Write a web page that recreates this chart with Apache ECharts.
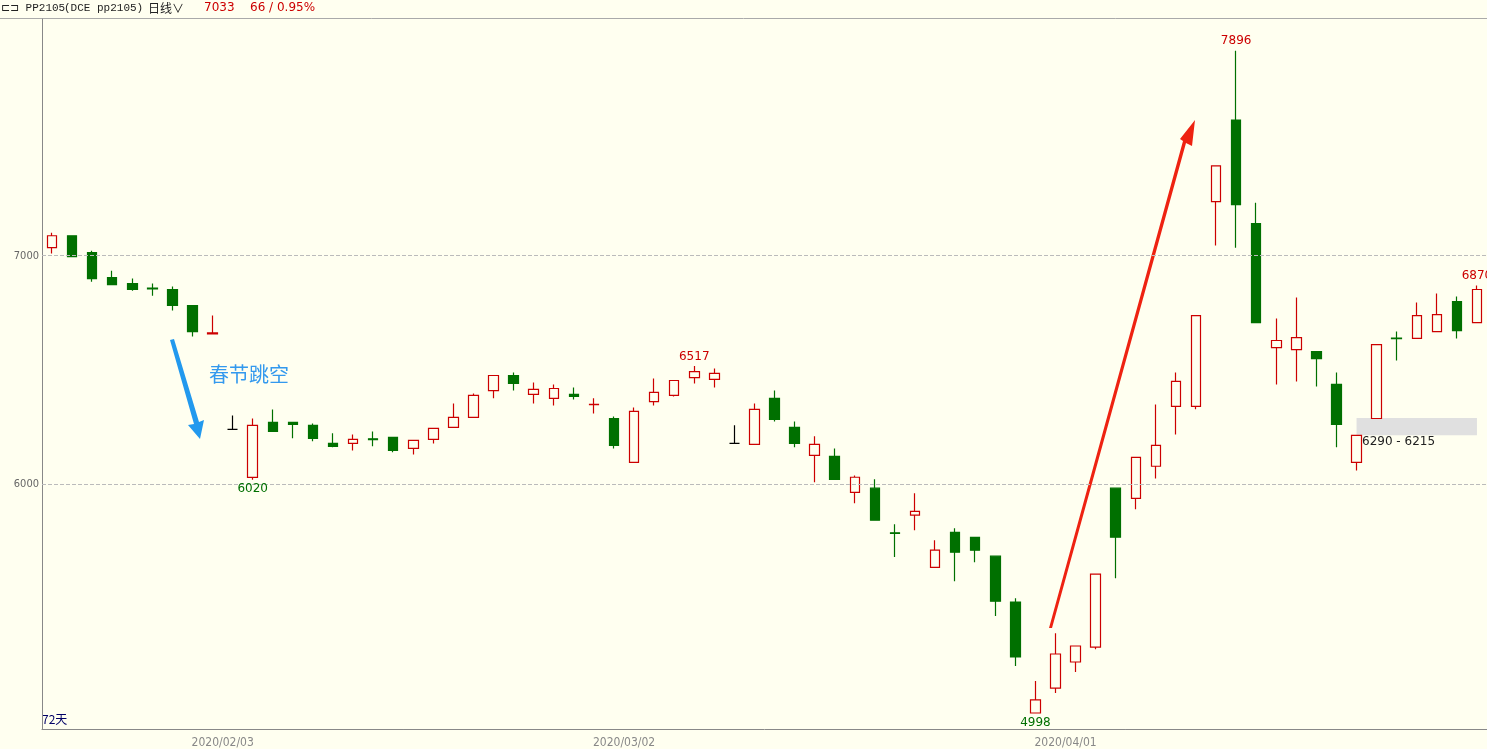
<!doctype html>
<html lang="zh">
<head>
<meta charset="utf-8">
<title>PP2105</title>
<script src="https://cdn.jsdelivr.net/npm/echarts@6/dist/echarts.min.js"></script>
<style>
  html, body { margin: 0; padding: 0; background: #fffff0; }
  #chart { width: 1487px; height: 749px; }
</style>
</head>
<body>
<div id="chart"></div>
<script>
// [open, close, low, high] per trading day
const ohlc = [
  [7035,7087,7009,7100],[7087,6996,6996,7087],[7013,6900,6886,7022],[6904,6873,6873,6934],
  [6878,6852,6847,6900],[6858,6855,6825,6878],[6852,6782,6760,6865],[6782,6668,6646,6782],
  [6658,6662,6658,6738],[6240,6240,6240,6301],[6030,6258,6020,6288],[6271,6231,6231,6327],
  [6271,6262,6201,6271],[6258,6201,6188,6266],[6179,6166,6162,6223],[6179,6197,6148,6218],
  [6199,6195,6166,6231],[6205,6148,6140,6205],[6157,6192,6131,6192],[6197,6245,6179,6245],
  [6249,6293,6249,6354],[6293,6389,6293,6397],[6410,6476,6376,6476],[6476,6441,6410,6489],
  [6393,6415,6354,6445],[6376,6419,6345,6437],[6393,6384,6371,6424],[6348,6350,6310,6376],
  [6288,6170,6157,6297],[6096,6319,6096,6336],[6362,6402,6345,6463],[6389,6454,6384,6454],
  [6467,6493,6441,6517],[6459,6485,6424,6507],[6179,6179,6179,6258],[6175,6328,6175,6354],
  [6376,6284,6275,6410],[6249,6179,6162,6275],[6127,6175,6009,6210],[6122,6022,6022,6157],
  [5965,6031,5917,6039],[5983,5843,5843,6022],[5788,5785,5682,5825],[5865,5882,5799,5961],
  [5637,5712,5637,5755],[5790,5703,5576,5808],[5768,5712,5659,5768],[5686,5489,5424,5686],
  [5485,5245,5205,5502],[5000,5057,4998,5140],[5109,5258,5087,5349],[5223,5293,5179,5293],
  [5288,5607,5279,5607],[5983,5769,5589,5983],[5939,6118,5891,6118],[6079,6170,6026,6349],
  [6341,6450,6218,6489],[6341,6738,6328,6738],[7236,7393,7044,7393],[7593,7223,7035,7896],
  [7140,6707,6707,7231],[6598,6629,6437,6725],[6589,6642,6450,6817],[6581,6550,6428,6581],
  [6437,6262,6162,6489],[6096,6214,6061,6214],[6288,6611,6288,6611],[6640,6637,6541,6668],
  [6638,6738,6638,6795],[6668,6742,6668,6834],[6799,6672,6638,6821],[6707,6852,6707,6870]
];
const blackDays = [9, 34];
const tickLabels = { 9: '2020/02/03', 29: '2020/03/02', 51: '2020/04/01' };
const days = ohlc.map((d, i) => String(i));
const yTicks = [6000, 7000];

const chart = echarts.init(document.getElementById('chart'));
const data = ohlc.map((d, i) => blackDays.includes(i)
  ? { value: d, itemStyle: { color: '#000', color0: '#000', borderColor: '#000', borderColor0: '#000' } }
  : d);

function pt(i, v, txt, color, below) {
  return {
    coord: [i, v], value: txt, symbol: 'circle', symbolSize: 1,
    itemStyle: { color: 'rgba(0,0,0,0)' },
    label: { show: true, color: color, fontSize: 12, fontFamily: 'DejaVu Sans',
      position: below ? 'bottom' : 'top', distance: 3, formatter: txt }
  };
}

chart.setOption({
  backgroundColor: '#fffff0',
  animation: false,
  grid: { left: 42, right: 0, top: 19, bottom: 20 },
  xAxis: {
    type: 'category', data: days,
    axisLine: { lineStyle: { color: '#888' } },
    axisTick: { show: false },
    axisLabel: {
      interval: 0, color: '#888', fontSize: 12, fontFamily: 'DejaVu Sans Condensed',
      padding: [0, 20, 0, 0],
      formatter: (v) => tickLabels[v] || ''
    },
    splitLine: { show: false }
  },
  yAxis: {
    min: 4930, max: 8035, position: 'left',
    axisLine: { show: true, lineStyle: { color: '#888' } },
    axisTick: { show: false },
    splitLine: { show: false },
    axisLabel: { customValues: yTicks, formatter: (v) => String(v), color: '#666', fontSize: 11,
      fontFamily: 'DejaVu Sans Condensed', margin: 3 }
  },
  series: [{
    type: 'candlestick', data: data, barWidth: 10,
    itemStyle: { color: '#fffff0', color0: '#007000', borderColor: '#cc0000', borderColor0: '#007000', borderWidth: 1.2 },
    markLine: {
      silent: true, symbol: 'none', label: { show: false },
      lineStyle: { color: '#bbb', type: 'dashed', width: 1 },
      data: yTicks.map(v => ({ yAxis: v }))
    },
    markPoint: {
      data: [
        pt(59, 7896, '7896', '#cc0000'), pt(71, 6870, '6870', '#cc0000'), pt(32, 6517, '6517', '#cc0000'),
        pt(10, 6020, '6020', '#007000', true), pt(49, 4998, '4998', '#007000', true)
      ]
    },
    markArea: {
      silent: true, itemStyle: { color: '#e0e0e0' },
      data: [[{ coord: [65, 6290] }, { coord: [71, 6215] }]]
    }
  }],
  graphic: [
    { type: 'rect', shape: { x: 0, y: 0, width: 1487, height: 18 }, style: { fill: '#fffff0' } },
    { type: 'line', shape: { x1: 0, y1: 18.5, x2: 1487, y2: 18.5 }, style: { stroke: '#aaa' } },
    { type: 'text', x: 1, y: 3, style: { text: '⊏⊐ PP2105', fill: '#222', font: '11px "Liberation Mono"' } },
    { type: 'text', x: 64, y: 3, style: { text: '(DCE pp2105)', fill: '#222', font: '11px "Liberation Mono"' } },
    { type: 'text', x: 148, y: 2, style: { text: '日线∨', fill: '#222', font: '12px "Noto Sans CJK SC"' } },
    { type: 'text', x: 204, y: 2, style: { text: '7033', fill: '#cc0000', font: '12px "DejaVu Sans"' } },
    { type: 'text', x: 250, y: 2, style: { text: '66 / 0.95%', fill: '#cc0000', font: '12px "DejaVu Sans"' } },
    { type: 'text', x: 42, y: 713, style: { text: '72天', fill: '#000066', font: '12px "Noto Sans CJK SC"' } },
    { type: 'text', x: 209, y: 364, style: { text: '春节跳空', fill: '#3399ee', font: '20px "Noto Sans CJK SC"' } },
    { type: 'text', x: 1362, y: 436, style: { text: '6290 - 6215', fill: '#222', font: '12px "DejaVu Sans"' } },
    // blue arrow
    { type: 'polygon', shape: { points: [[170, 340], [174, 339], [199, 422], [204, 420], [200, 439], [188, 425], [194, 424]] },
      style: { fill: '#2299ee' } },
    // red arrow
    { type: 'polygon', shape: { points: [[1049, 628], [1052, 628], [1186, 143], [1192, 146], [1195, 120], [1180, 139], [1183, 141]] },
      style: { fill: '#ee2211' } }
  ]
});
</script>
</body>
</html>
